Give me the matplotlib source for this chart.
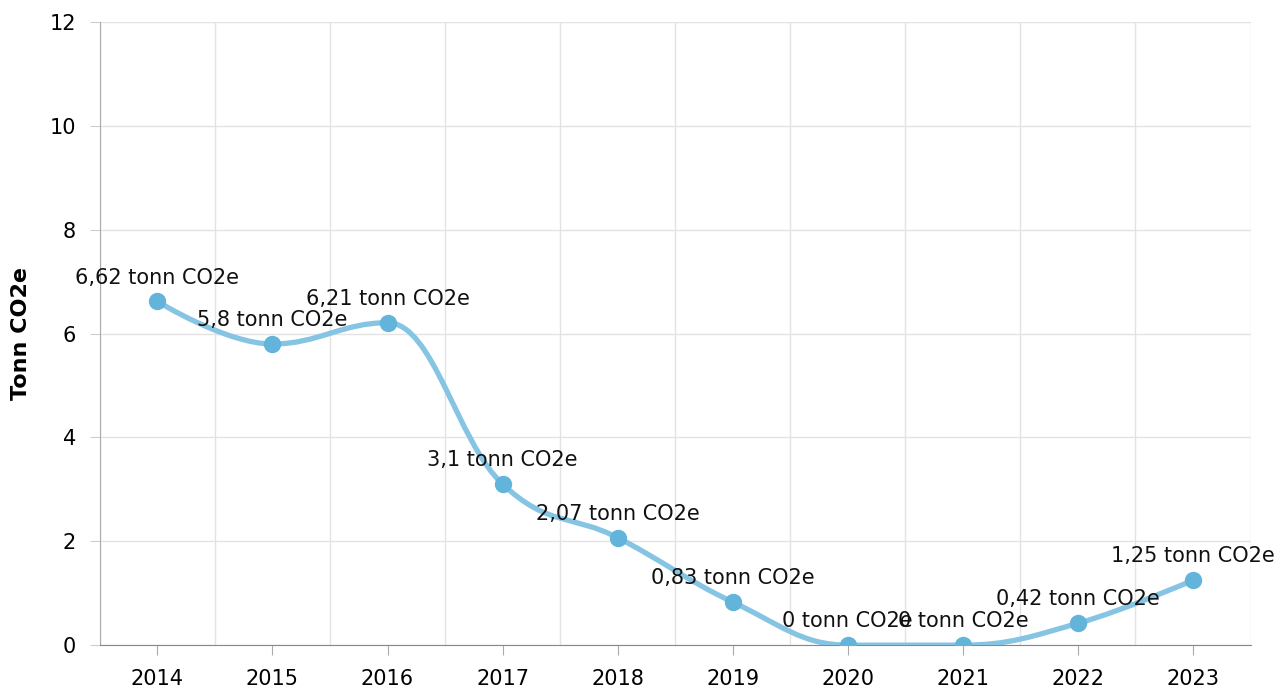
import matplotlib
matplotlib.use('Agg')
import matplotlib.pyplot as plt
import numpy as np
from matplotlib.path import Path
from matplotlib.patches import PathPatch

years = ['2014', '2015', '2016', '2017', '2018', '2019', '2020', '2021', '2022', '2023']
values = [6.62, 5.8, 6.21, 3.1, 2.07, 0.83, 0, 0, 0.42, 1.25]
labels = ['6,62 tonn CO2e', '5,8 tonn CO2e', '6,21 tonn CO2e', '3,1 tonn CO2e',
          '2,07 tonn CO2e', '0,83 tonn CO2e', '0 tonn CO2e', '0 tonn CO2e',
          '0,42 tonn CO2e', '1,25 tonn CO2e']
y_ticks = [0, 2, 4, 6, 8, 10, 12]

line_color = '#86c4e3'
marker_color = '#62b4db'


def spline_path(xs, ys, smoothing=1.5):
    """ Build a smooth bezier path through the points (highcharts style) """
    n = len(xs)
    left = [(xs[i], ys[i]) for i in range(n)]
    right = [(xs[i], ys[i]) for i in range(n)]
    denom = smoothing + 1
    for i in range(1, n - 1):
        lx, ly = xs[i - 1], ys[i - 1]
        nx, ny = xs[i + 1], ys[i + 1]
        px, py = xs[i], ys[i]
        lcx = (smoothing * px + lx) / denom
        lcy = (smoothing * py + ly) / denom
        rcx = (smoothing * px + nx) / denom
        rcy = (smoothing * py + ny) / denom
        if rcx != lcx:
            corr = ((rcy - lcy) * (rcx - px)) / (rcx - lcx) + py - rcy
            lcy += corr
            rcy += corr
        # keep control points from overshooting
        if lcy > max(ly, py):
            lcy = max(ly, py)
            rcy = 2 * py - lcy
        elif lcy < min(ly, py):
            lcy = min(ly, py)
            rcy = 2 * py - lcy
        if rcy > max(py, ny):
            rcy = max(py, ny)
            lcy = 2 * py - rcy
        elif rcy < min(py, ny):
            rcy = min(py, ny)
            lcy = 2 * py - rcy
        left[i] = (lcx, lcy)
        right[i] = (rcx, rcy)
    verts = [(xs[0], ys[0])]
    codes = [Path.MOVETO]
    for i in range(1, n):
        verts += [right[i - 1], left[i], (xs[i], ys[i])]
        codes += [Path.CURVE4] * 3
    return Path(verts, codes)


plt.rcParams['font.family'] = ['DejaVu Sans']
fig = plt.figure(figsize=(12.8, 6.9), dpi=100)
ax = fig.add_axes([0.078, 0.065, 0.899, 0.903])

x = np.arange(len(years))
ax.add_patch(PathPatch(spline_path(list(x), values), facecolor='none',
                       edgecolor=line_color, lw=3.8, capstyle='round', zorder=3))
ax.plot(x, values, 'o', color=marker_color, markersize=11.5, zorder=4)

for xi, v, lab in zip(x, values, labels):
    ax.annotate(lab, (xi, v), xytext=(0, 10), textcoords='offset points',
                ha='center', va='bottom', fontsize=15, color='#111111', zorder=5)

ax.set_xlim(-0.5, len(years) - 0.5)
ax.set_ylim(0, 12)
ax.set_xticks(x)
ax.set_xticklabels(years)
ax.set_xticks(np.arange(-0.5, len(years), 1), minor=True)
ax.set_yticks(y_ticks)

ax.grid(True, axis='y', color='#e3e3e3', lw=1)
ax.grid(True, axis='x', which='minor', color='#e3e3e3', lw=1)
ax.set_axisbelow(True)

for s in ['top', 'right']:
    ax.spines[s].set_visible(False)
ax.spines['left'].set_color('#aaaaaa')
ax.spines['bottom'].set_color('#888888')
ax.tick_params(axis='x', which='major', length=7, color='#aaaaaa', labelsize=15, pad=10)
ax.tick_params(axis='x', which='minor', length=0)
ax.tick_params(axis='y', length=7, color='#cccccc', labelsize=15, pad=10)

ax.set_ylabel('Tonn CO2e', fontsize=16, fontweight='bold')
ax.yaxis.set_label_coords(-0.06, 0.5)

fig.savefig('out.png', dpi=100)
